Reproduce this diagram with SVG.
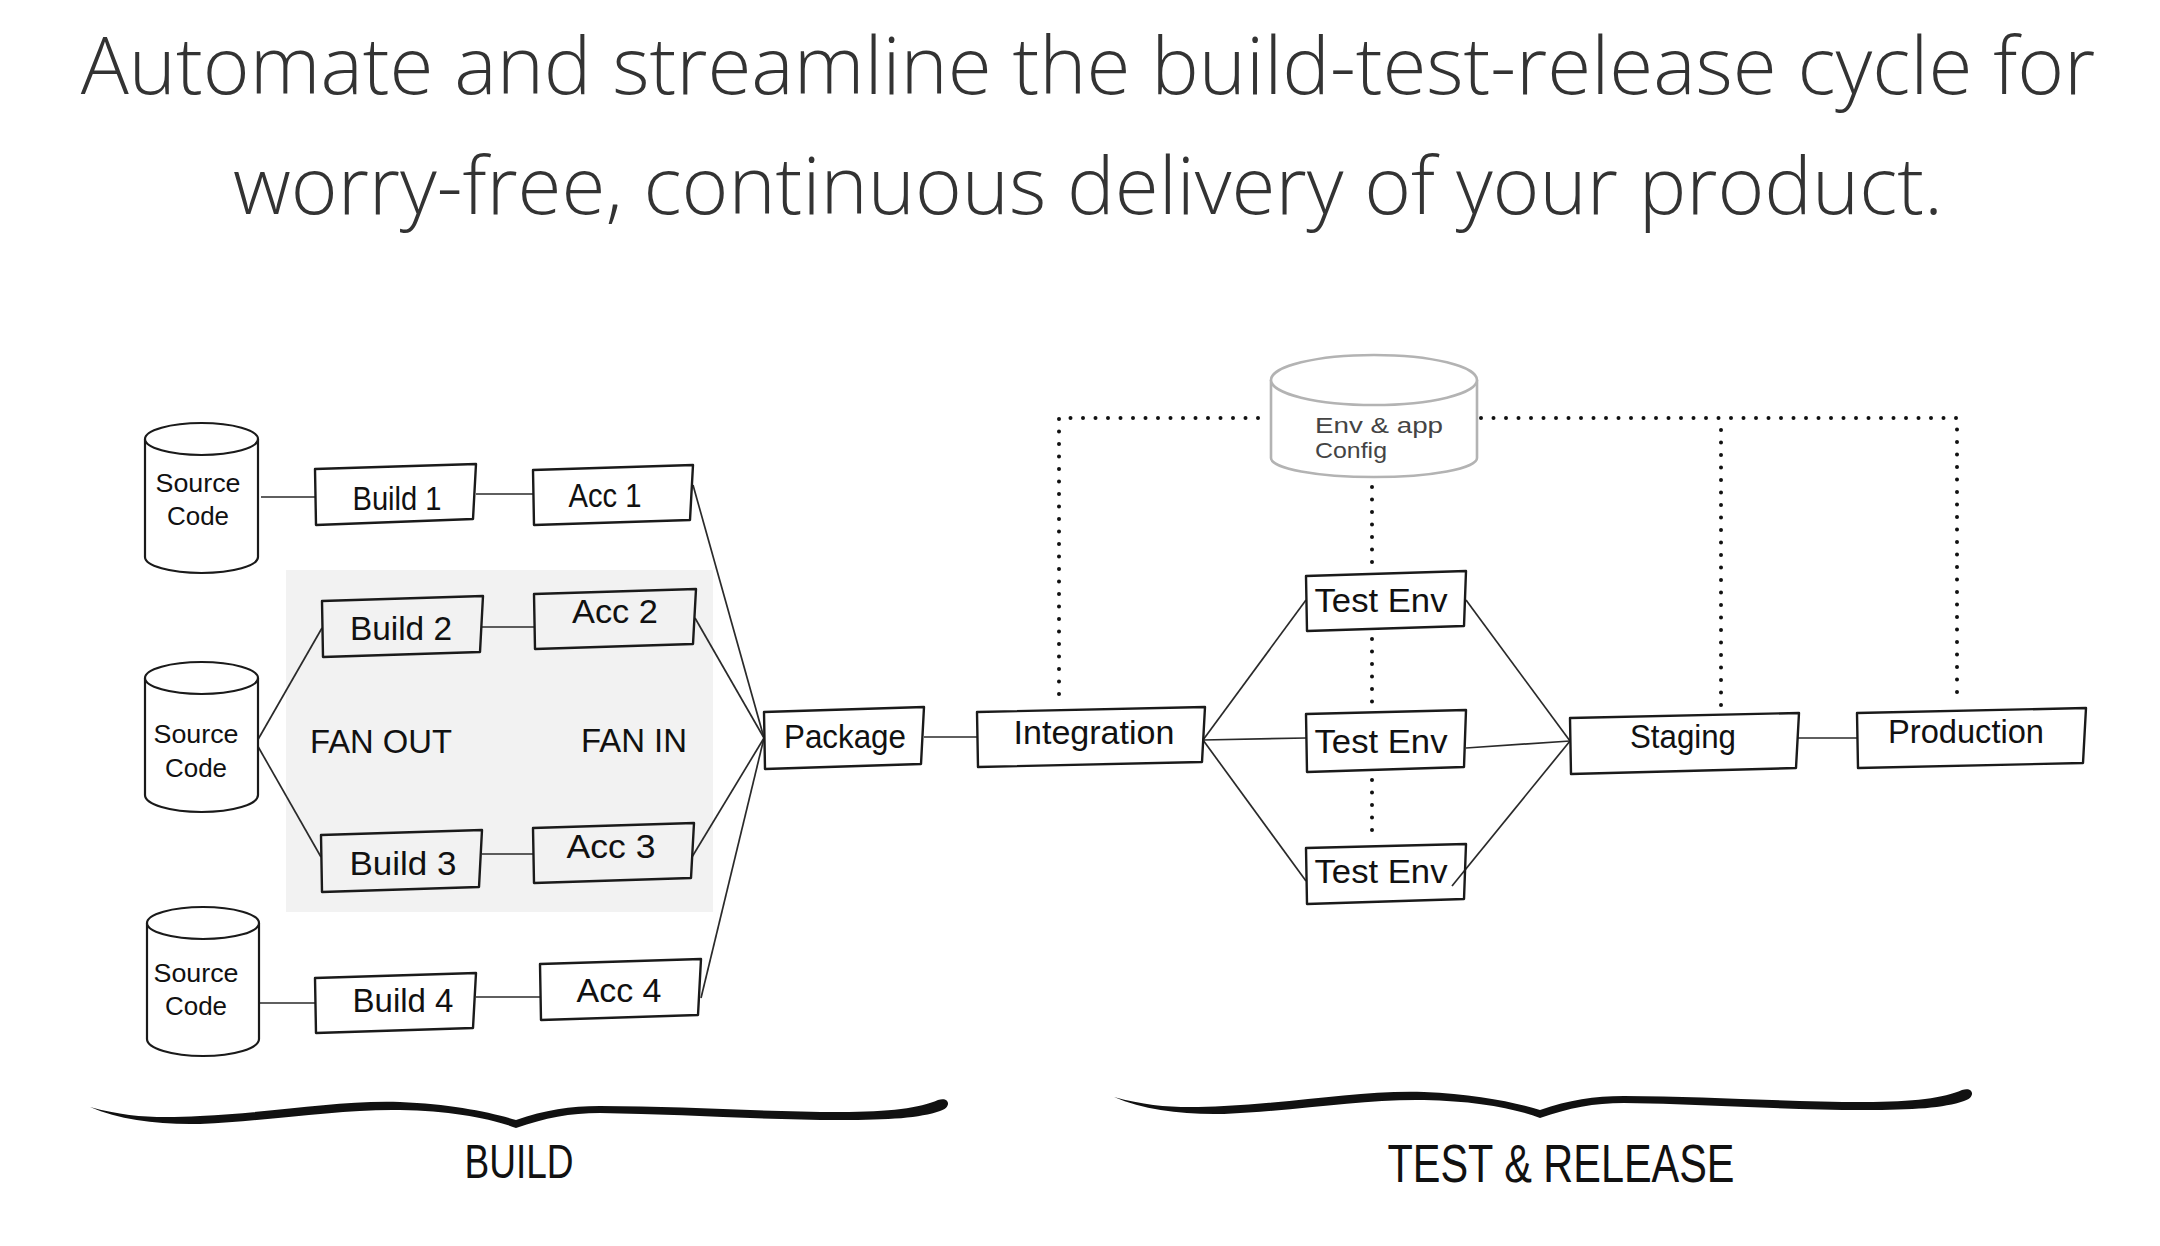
<svg xmlns="http://www.w3.org/2000/svg" width="2160" height="1246" viewBox="0 0 2160 1246">
<style>
.title{font-family:"Open Sans","Liberation Sans",sans-serif;font-weight:300;font-size:80px;fill:#333;text-anchor:middle}
.box{fill:none;stroke:#1a1a1a;stroke-width:2.4;stroke-linejoin:round}
.cyl{fill:#fff;stroke:#1a1a1a;stroke-width:2.2;stroke-linejoin:round}
.cylg{fill:#fff;stroke:#b3b3b3;stroke-width:2.6;stroke-linejoin:round}
.lbl{font-family:"Liberation Sans Narrow","Liberation Sans",sans-serif;font-size:34px;fill:#111;text-anchor:middle}
.src{font-family:"Liberation Sans Narrow","Liberation Sans",sans-serif;font-size:25px;fill:#111;text-anchor:middle}
.cfg{font-family:"Liberation Sans Narrow","Liberation Sans",sans-serif;font-size:22px;fill:#444}
.sec{font-family:"Liberation Sans Narrow","Liberation Sans",sans-serif;fill:#111;text-anchor:middle}
.con{fill:none;stroke:#2a2a2a;stroke-width:1.7}
.dot{fill:none;stroke:#111;stroke-width:4;stroke-linecap:round;stroke-dasharray:0 12.5}
</style>
<defs>
<path id="brace" d="M 90 1107 C 130 1118, 160 1118, 200 1116 C 280 1112, 340 1100, 400 1102 C 450 1104, 490 1112, 516 1120 C 545 1110, 570 1106, 600 1106 C 680 1106, 760 1112, 840 1112 C 890 1112, 920 1108, 938 1100 C 950 1096, 952 1108, 940 1111 C 920 1118, 890 1120, 840 1120 C 760 1120, 680 1114, 600 1113 C 570 1113, 545 1118, 516 1128 C 490 1118, 450 1111, 400 1110 C 340 1109, 280 1120, 200 1124 C 160 1125, 120 1120, 90 1107 Z" fill="#111"/>
</defs>
<rect width="2160" height="1246" fill="#fff"/>
<g id="title">
<text class="title" x="1088" y="94">Automate and streamline the build-test-release cycle for</text>
<text class="title" x="1088" y="214">worry-free, continuous delivery of your product.</text>
</g>
<rect id="fan-area" x="286" y="570" width="427" height="342" fill="#f2f2f2"/>
<g id="connectors">
<path class="con" d="M261 497 L316 497"/>
<path class="con" d="M476 494 L533 494"/>
<path class="con" d="M693 485 L764 738"/>
<path class="con" d="M695 618 L764 738"/>
<path class="con" d="M692 857 L764 738"/>
<path class="con" d="M701 998 L764 738"/>
<path class="con" d="M256 743 L322 628"/>
<path class="con" d="M256 743 L321 857"/>
<path class="con" d="M482 627 L534 627"/>
<path class="con" d="M482 854 L533 854"/>
<path class="con" d="M259 1003 L315 1003"/>
<path class="con" d="M476 997 L540 997"/>
<path class="con" d="M924 737 L977 737"/>
<path class="con" d="M1203 740 L1306 600"/>
<path class="con" d="M1203 740 L1306 738"/>
<path class="con" d="M1203 740 L1306 881"/>
<path class="con" d="M1466 600 L1570 741"/>
<path class="con" d="M1466 748 L1570 741"/>
<path class="con" d="M1452 886 L1570 741"/>
<path class="con" d="M1797 738 L1857 738"/>
<path class="dot" d="M1059 694 V418 H1268"/>
<path class="dot" d="M1481 418 H1957 V703"/>
<path class="dot" d="M1721 430 V708"/>
<path class="dot" d="M1372 487 V566"/>
<path class="dot" d="M1372 639 V707"/>
<path class="dot" d="M1372 780 V837"/>
</g>
<g id="source1">
<path class="cyl" d="M145 439 V557 A56.5 16 0 0 0 258 557 V439"/>
<ellipse class="cyl" cx="201.5" cy="439" rx="56.5" ry="16"/>
<text class="src" x="198" y="492" textLength="85" lengthAdjust="spacingAndGlyphs">Source</text>
<text class="src" x="198" y="525" textLength="62" lengthAdjust="spacingAndGlyphs">Code</text>
</g>
<g id="source2">
<path class="cyl" d="M145 678 V795 A56.5 17 0 0 0 258 795 V678"/>
<ellipse class="cyl" cx="201.5" cy="678" rx="56.5" ry="16"/>
<text class="src" x="196" y="743" textLength="85" lengthAdjust="spacingAndGlyphs">Source</text>
<text class="src" x="196" y="777" textLength="62" lengthAdjust="spacingAndGlyphs">Code</text>
</g>
<g id="source3">
<path class="cyl" d="M147 923 V1039 A56 17 0 0 0 259 1039 V923"/>
<ellipse class="cyl" cx="203" cy="923" rx="56" ry="16"/>
<text class="src" x="196" y="982" textLength="85" lengthAdjust="spacingAndGlyphs">Source</text>
<text class="src" x="196" y="1015" textLength="62" lengthAdjust="spacingAndGlyphs">Code</text>
</g>
<g id="build1"><path class="box" d="M315 469 L476 464 L473 519 L316 525 Z"/><text class="lbl" x="397" y="510" textLength="89" lengthAdjust="spacingAndGlyphs">Build 1</text></g>
<g id="acc1"><path class="box" d="M533 470 L693 465 L690 520 L534 525 Z"/><text class="lbl" x="605" y="507" textLength="73" lengthAdjust="spacingAndGlyphs">Acc 1</text></g>
<g id="build2"><path class="box" d="M322 601 L483 596 L480 652 L323 657 Z"/><text class="lbl" x="401" y="640" textLength="102" lengthAdjust="spacingAndGlyphs">Build 2</text></g>
<g id="acc2"><path class="box" d="M534 594 L696 589 L693 644 L535 649 Z"/><text class="lbl" x="615" y="623" textLength="86" lengthAdjust="spacingAndGlyphs">Acc 2</text></g>
<g id="build3"><path class="box" d="M321 835 L482 830 L479 887 L322 892 Z"/><text class="lbl" x="403" y="875" textLength="107" lengthAdjust="spacingAndGlyphs">Build 3</text></g>
<g id="acc3"><path class="box" d="M533 828 L694 823 L691 878 L534 883 Z"/><text class="lbl" x="611" y="858" textLength="89" lengthAdjust="spacingAndGlyphs">Acc 3</text></g>
<g id="build4"><path class="box" d="M315 978 L476 973 L473 1028 L316 1033 Z"/><text class="lbl" x="403" y="1012" textLength="101" lengthAdjust="spacingAndGlyphs">Build 4</text></g>
<g id="acc4"><path class="box" d="M540 964 L701 959 L698 1015 L541 1020 Z"/><text class="lbl" x="619" y="1002" textLength="85" lengthAdjust="spacingAndGlyphs">Acc 4</text></g>
<g id="fan-labels">
<text class="lbl" x="381" y="753" textLength="142" lengthAdjust="spacingAndGlyphs">FAN OUT</text>
<text class="lbl" x="634" y="752" textLength="106" lengthAdjust="spacingAndGlyphs">FAN IN</text>
</g>
<g id="package"><path class="box" d="M764 712 L924 707 L921 764 L765 769 Z"/><text class="lbl" x="845" y="748" textLength="122" lengthAdjust="spacingAndGlyphs">Package</text></g>
<g id="integration"><path class="box" d="M977 712 L1205 707 L1202 762 L978 767 Z"/><text class="lbl" x="1094" y="744" textLength="161" lengthAdjust="spacingAndGlyphs">Integration</text></g>
<g id="config">
<path class="cylg" d="M1271 380 V458 A103 19 0 0 0 1477 458 V380"/>
<ellipse class="cylg" cx="1374" cy="380" rx="103" ry="25"/>
<text class="cfg" x="1315" y="433" textLength="128" lengthAdjust="spacingAndGlyphs">Env &amp; app</text>
<text class="cfg" x="1315" y="458" textLength="72" lengthAdjust="spacingAndGlyphs">Config</text>
</g>
<g id="testenv1"><path class="box" d="M1306 576 L1466 571 L1464 626 L1307 631 Z"/><text class="lbl" x="1381" y="612" textLength="133" lengthAdjust="spacingAndGlyphs">Test Env</text></g>
<g id="testenv2"><path class="box" d="M1306 714 L1466 710 L1464 767 L1307 772 Z"/><text class="lbl" x="1381" y="753" textLength="133" lengthAdjust="spacingAndGlyphs">Test Env</text></g>
<g id="testenv3"><path class="box" d="M1306 848 L1466 844 L1464 899 L1307 904 Z"/><text class="lbl" x="1381" y="883" textLength="133" lengthAdjust="spacingAndGlyphs">Test Env</text></g>
<g id="staging"><path class="box" d="M1570 718 L1799 713 L1796 768 L1571 774 Z"/><text class="lbl" x="1683" y="748" textLength="106" lengthAdjust="spacingAndGlyphs">Staging</text></g>
<g id="production"><path class="box" d="M1857 713 L2086 708 L2083 763 L1858 768 Z"/><text class="lbl" x="1966" y="743" textLength="156" lengthAdjust="spacingAndGlyphs">Production</text></g>
<g id="build-section">
<use href="#brace"/>
<text class="sec" x="519" y="1178" font-size="48" textLength="109" lengthAdjust="spacingAndGlyphs">BUILD</text>
</g>
<g id="release-section">
<use href="#brace" transform="translate(1024,-10)"/>
<text class="sec" x="1561" y="1182" font-size="54" textLength="347" lengthAdjust="spacingAndGlyphs">TEST &amp; RELEASE</text>
</g>
</svg>
